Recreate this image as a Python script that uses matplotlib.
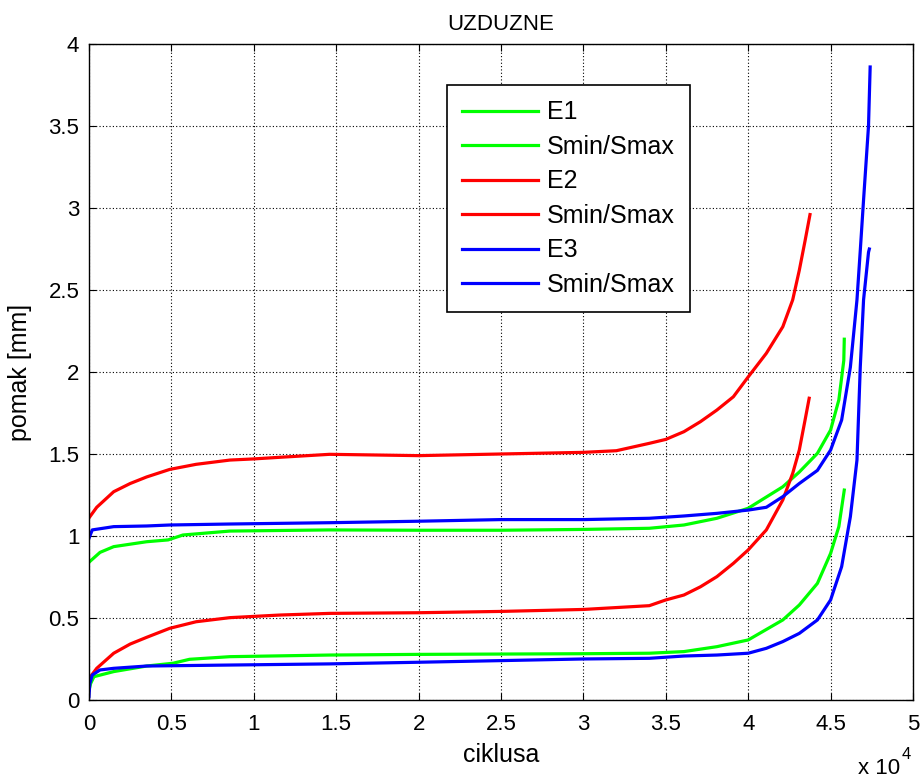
import matplotlib
matplotlib.use("Agg")
import matplotlib.pyplot as plt
from matplotlib.ticker import FuncFormatter, MultipleLocator

plt.rcParams['font.family'] = ['Liberation Sans', 'DejaVu Sans']

# E1 (green) - upper curve and Smin/Smax curve
e1_x = [0, 670, 1500, 3500, 4800, 5700, 8550, 14600, 20000, 25000, 30000, 34000,
        36100, 38100, 40000, 42100, 43100, 44200, 45000, 45500, 45800, 45830]
e1_y = [0.84, 0.90, 0.935, 0.965, 0.976, 1.006, 1.03, 1.037, 1.035, 1.035, 1.04, 1.047,
        1.067, 1.108, 1.169, 1.30, 1.39, 1.504, 1.646, 1.83, 2.07, 2.20]
s1_x = [0, 100, 300, 1500, 3500, 5100, 6100, 8550, 14600, 20000, 25000, 30000, 34000,
        36100, 38100, 40000, 42100, 43100, 44200, 45000, 45500, 45830]
s1_y = [0.06, 0.10, 0.142, 0.173, 0.207, 0.224, 0.248, 0.264, 0.274, 0.278, 0.28, 0.282, 0.285,
        0.295, 0.325, 0.366, 0.488, 0.579, 0.711, 0.894, 1.057, 1.28]

# E2 (red)
e2_x = [0, 470, 1500, 2500, 3500, 4900, 6500, 8550, 10000, 11600, 14600, 20000, 25000,
        30000, 32000, 34000, 35000, 36100, 37100, 38100, 39100, 40000, 41100, 42100,
        42700, 43100, 43450, 43750]
e2_y = [1.11, 1.175, 1.27, 1.32, 1.36, 1.406, 1.437, 1.463, 1.47, 1.48, 1.498, 1.49, 1.50,
        1.51, 1.52, 1.565, 1.589, 1.636, 1.697, 1.768, 1.849, 1.97, 2.114, 2.276,
        2.44, 2.62, 2.80, 2.96]
s2_x = [0, 470, 1500, 2500, 3500, 4900, 6500, 8550, 11600, 14600, 20000, 25000, 30000,
        34000, 35000, 36100, 37100, 38100, 39100, 40000, 41100, 42100, 42700, 43100,
        43450, 43700]
s2_y = [0.13, 0.193, 0.285, 0.341, 0.382, 0.437, 0.477, 0.502, 0.518, 0.528, 0.532, 0.54, 0.552,
        0.575, 0.61, 0.64, 0.69, 0.752, 0.833, 0.915, 1.037, 1.22, 1.382, 1.524,
        1.707, 1.84]

# E3 (blue)
e3_x = [0, 200, 1500, 3500, 4900, 8550, 14600, 20000, 25000, 30000, 34000, 36100, 38100,
        40000, 41100, 42100, 43100, 44200, 45000, 45670, 46200, 46600, 46800, 47000,
        47300, 47400]
e3_y = [0.986, 1.037, 1.057, 1.061, 1.067, 1.073, 1.081, 1.09, 1.10, 1.10, 1.108, 1.122, 1.138,
        1.158, 1.175, 1.24, 1.32, 1.40, 1.524, 1.707, 2.03, 2.44, 2.74, 3.05,
        3.5, 3.86]
s3_x = [0, 50, 200, 670, 1500, 3500, 8550, 14600, 20000, 25000, 30000, 34000, 36100,
        38100, 40000, 41100, 42100, 43100, 44200, 45000, 45670, 46200, 46600, 46800,
        47000, 47300, 47350]
s3_y = [0.02, 0.10, 0.152, 0.183, 0.193, 0.207, 0.213, 0.22, 0.23, 0.24, 0.25, 0.254, 0.268,
        0.274, 0.285, 0.315, 0.356, 0.406, 0.488, 0.61, 0.813, 1.118, 1.463, 2.03,
        2.44, 2.73, 2.75]

series = [
    (e1_x, e1_y, 'E1', (0, 1, 0)),
    (s1_x, s1_y, 'Smin/Smax', (0, 1, 0)),
    (e2_x, e2_y, 'E2', (1, 0, 0)),
    (s2_x, s2_y, 'Smin/Smax', (1, 0, 0)),
    (e3_x, e3_y, 'E3', (0, 0, 1)),
    (s3_x, s3_y, 'Smin/Smax', (0, 0, 1)),
]

fig = plt.figure(figsize=(9.24, 7.78), dpi=100)
ax = fig.add_axes([0.0963, 0.1003, 0.8918, 0.8431])

for x, y, lab, col in series:
    ax.plot(x, y, color=col, linewidth=2.3, label=lab)

ax.set_xlim(0, 50000)
ax.set_ylim(0, 4)
ax.xaxis.set_major_locator(MultipleLocator(5000))
ax.yaxis.set_major_locator(MultipleLocator(0.5))
ax.xaxis.set_major_formatter(FuncFormatter(lambda v, p: f"{v / 1e4:g}"))
ax.yaxis.set_major_formatter(FuncFormatter(lambda v, p: f"{v:g}"))

ax.grid(True, color='black', linestyle=(0, (1, 2)), linewidth=0.8)
ax.tick_params(direction='in', top=True, right=True, length=5, width=0.8,
               labelsize=16)
ax.tick_params(axis='x', pad=10)
ax.tick_params(axis='y', pad=7)
for s in ax.spines.values():
    s.set_linewidth(1.0)

ax.set_title('UZDUZNE', fontsize=16, pad=10)
ax.set_xlabel('ciklusa', fontsize=18, labelpad=6)
ax.set_ylabel('pomak [mm]', fontsize=18, labelpad=12)

# MATLAB style exponent under the x axis
fig.text(900 / 924, 3.5 / 778, 'x 10', ha='right', va='baseline', fontsize=16)
fig.text(902 / 924, 19 / 778, '4', ha='left', va='baseline', fontsize=12)

leg = ax.legend(loc='upper left', bbox_to_anchor=(0.434, 0.937), fontsize=18,
                fancybox=False, framealpha=1, edgecolor='black',
                handlelength=3.05, handletextpad=0.36, labelspacing=0.42,
                borderpad=0.6, borderaxespad=0)
leg.get_frame().set_linewidth(1.2)

fig.savefig('out.png', dpi=100)
